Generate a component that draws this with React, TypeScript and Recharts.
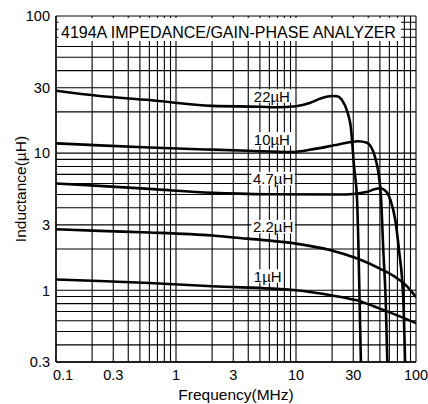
import React from "react";
import {
  LineChart,
  Line,
  XAxis,
  YAxis,
  CartesianGrid,
  ReferenceArea,
  ReferenceDot,
} from "recharts";

const font = '"Liberation Sans", Arial, Helvetica, sans-serif';

// log grid: 1..9 per decade
const freqTicks = [
  0.1, 0.2, 0.3, 0.4, 0.5, 0.6, 0.7, 0.8, 0.9,
  1, 2, 3, 4, 5, 6, 7, 8, 9,
  10, 20, 30, 40, 50, 60, 70, 80, 90, 100,
];
const freqLabels = [0.1, 0.3, 1, 3, 10, 30, 100];

const indTicks = [
  0.3, 0.4, 0.5, 0.6, 0.7, 0.8, 0.9,
  1, 2, 3, 4, 5, 6, 7, 8, 9,
  10, 20, 30, 40, 50, 60, 70, 80, 90, 100,
];
const indLabels = [0.3, 1, 3, 10, 30, 100];

// f = MHz, L = uH
const curve22 = [
  { f: 0.1, L: 28.5 }, { f: 0.23, L: 26.1 }, { f: 0.6, L: 24.4 },
  { f: 2, L: 22.1 }, { f: 5, L: 21.8 }, { f: 7, L: 21.6 },
  { f: 10, L: 22.0 }, { f: 13, L: 23.2 }, { f: 16, L: 25.0 },
  { f: 20, L: 26.1 }, { f: 22, L: 26.0 }, { f: 24, L: 24.6 },
  { f: 27, L: 19.6 }, { f: 28.6, L: 15.6 }, { f: 30.5, L: 7.9 },
  { f: 32.3, L: 4.5 }, { f: 33.2, L: 1.96 }, { f: 34.8, L: 0.28 },
];

const curve10 = [
  { f: 0.1, L: 11.8 }, { f: 0.23, L: 11.4 }, { f: 0.6, L: 11.0 },
  { f: 2, L: 10.6 }, { f: 4, L: 10.4 }, { f: 9, L: 10.2 },
  { f: 14, L: 10.7 }, { f: 20.7, L: 11.4 }, { f: 28, L: 12.0 },
  { f: 33, L: 12.2 }, { f: 39, L: 11.9 }, { f: 42, L: 11.2 },
  { f: 45.5, L: 9.4 }, { f: 48.5, L: 7.3 }, { f: 51, L: 4.9 },
  { f: 53.4, L: 1.96 }, { f: 55.9, L: 0.85 }, { f: 57.8, L: 0.28 },
];

const curve4_7 = [
  { f: 0.1, L: 6.0 }, { f: 0.23, L: 5.77 }, { f: 0.6, L: 5.49 },
  { f: 2, L: 5.13 }, { f: 6, L: 5.02 }, { f: 26, L: 5.0 },
  { f: 38.7, L: 5.2 }, { f: 45, L: 5.45 }, { f: 50, L: 5.55 },
  { f: 57, L: 5.2 }, { f: 61.5, L: 4.5 }, { f: 67, L: 3.3 },
  { f: 72.2, L: 1.96 }, { f: 78.4, L: 0.85 }, { f: 81.3, L: 0.28 },
];

const curve2_2 = [
  { f: 0.1, L: 2.79 }, { f: 0.23, L: 2.71 }, { f: 0.6, L: 2.64 },
  { f: 2, L: 2.51 }, { f: 3.9, L: 2.38 }, { f: 10, L: 2.19 },
  { f: 19.5, L: 1.96 }, { f: 32, L: 1.71 }, { f: 50, L: 1.44 },
  { f: 70, L: 1.22 }, { f: 85, L: 1.06 }, { f: 100, L: 0.89 },
];

const curve1 = [
  { f: 0.1, L: 1.2 }, { f: 0.23, L: 1.17 }, { f: 0.6, L: 1.13 },
  { f: 2, L: 1.07 }, { f: 10, L: 1.0 }, { f: 19.5, L: 0.92 },
  { f: 32, L: 0.845 }, { f: 50, L: 0.735 }, { f: 75, L: 0.64 },
  { f: 100, L: 0.577 },
];

const curves = [curve22, curve10, curve4_7, curve2_2, curve1];

const curveLabels = [
  { text: "22\u00B5H", f: 4.45, L: 26.0 },
  { text: "10\u00B5H", f: 4.45, L: 12.65 },
  { text: "4.7\u00B5H", f: 4.38, L: 6.5 },
  { text: "2.2\u00B5H", f: 4.38, L: 2.9 },
  { text: "1\u00B5H", f: 4.45, L: 1.265 },
];

const title = "4194A IMPEDANCE/GAIN-PHASE ANALYZER";

// rough Arial advance widths (em)
const charW: Record<string, number> = { ".": 0.278, "\u00B5": 0.576, H: 0.722 };
const textWidth = (s: string, size: number) =>
  s.split("").reduce((w, c) => w + (charW[c] ?? 0.556), 0) * size;

const XTick = (props: any) => {
  const { x, y, payload } = props;
  if (!freqLabels.includes(payload.value)) return <g />;
  const shift = payload.value === 0.1 ? 7 : 0;
  return (
    <text x={x + shift} y={y} dy="0.71em" textAnchor="middle" fontSize={14.5} fontFamily={font} fill="#000">
      {payload.value}
    </text>
  );
};

const YTick = (props: any) => {
  const { x, y, payload } = props;
  if (!indLabels.includes(payload.value)) return <g />;
  return (
    <text x={x + 2} y={y} dy="0.36em" textAnchor="end" fontSize={14.5} fontFamily={font} fill="#000">
      {payload.value}
    </text>
  );
};

const XTitle = (props: any) => {
  const vb = props.viewBox || {};
  return (
    <text x={vb.x + vb.width / 2} y={vb.y + 38} textAnchor="middle" fontSize={15.5} fontFamily={font} fill="#000">
      Frequency(MHz)
    </text>
  );
};

const YTitle = (props: any) => {
  const vb = props.viewBox || {};
  const cx = 20;
  const cy = vb.y + vb.height / 2;
  return (
    <text x={cx} y={cy} transform={`rotate(-90 ${cx} ${cy})`} dy="0.36em" textAnchor="middle" fontSize={15.5} fontFamily={font} fill="#000">
      {"Inductance(\u00B5H)"}
    </text>
  );
};

// white box behind a curve name, left-anchored at the dot
const LabelBox = ({ cx, cy, text }: any) => {
  const w = textWidth(text, 15);
  return (
    <g>
      <rect x={cx - 1.5} y={cy - 7} width={w + 3} height={13.5} fill="#fff" />
      <text x={cx} y={cy} dy="0.36em" fontSize={15} fontFamily={font} fill="#000">
        {text}
      </text>
    </g>
  );
};

const TitleBox = (props: any) => {
  const { x, y, width, height } = props;
  return (
    <g>
      <rect x={x} y={y} width={width} height={height} fill="#fff" />
      <text x={x + 2.5} y={y + 20} fontSize={16} fontFamily={font} fill="#000">
        {title}
      </text>
    </g>
  );
};

export default function App() {
  return (
    <div style={{ width: 428, height: 404, background: "#fff" }}>
      <style>{`body{margin:0;background:#fff}`}</style>
      <LineChart width={428} height={404} margin={{ top: 16, right: 12, bottom: 0, left: 0 }}>
        <CartesianGrid stroke="#000" strokeWidth={1.1} />
        <XAxis
          dataKey="f"
          type="number"
          scale="log"
          domain={[0.1, 100]}
          allowDataOverflow
          ticks={freqTicks}
          interval={0}
          tick={<XTick />}
          tickLine={false}
          axisLine={{ stroke: "#000", strokeWidth: 1.3 }}
          height={42}
          label={<XTitle />}
        />
        <YAxis
          dataKey="L"
          type="number"
          scale="log"
          domain={[0.3, 100]}
          allowDataOverflow
          ticks={indTicks}
          interval={0}
          tick={<YTick />}
          tickLine={false}
          axisLine={{ stroke: "#000", strokeWidth: 1.3 }}
          width={56}
          label={<YTitle />}
        />
        <ReferenceArea x1={0.1049} x2={75} y1={65.7} y2={96.7} shape={<TitleBox />} />
        {curves.map((c, i) => (
          <Line
            key={i}
            data={c}
            dataKey="L"
            type="monotone"
            stroke="#000"
            strokeWidth={2.6}
            dot={false}
            activeDot={false}
            isAnimationActive={false}
          />
        ))}
        {curveLabels.map((l) => (
          <ReferenceDot
            key={l.text}
            x={l.f}
            y={l.L}
            r={5}
            shape={(p: any) => <LabelBox cx={p.cx} cy={p.cy} text={l.text} />}
          />
        ))}
      </LineChart>
    </div>
  );
}
